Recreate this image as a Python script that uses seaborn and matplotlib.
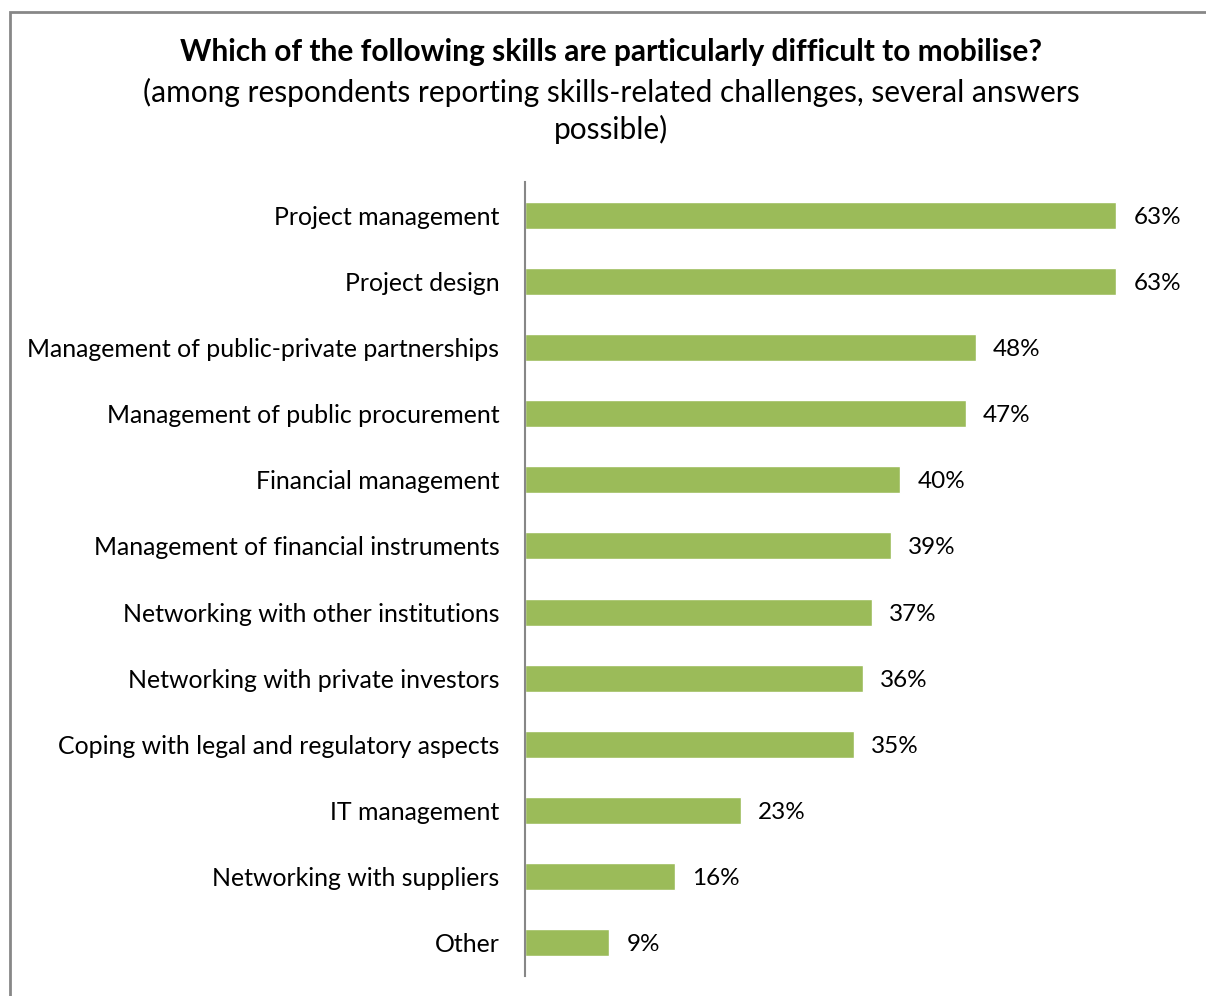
import matplotlib
matplotlib.use("Agg")
import matplotlib.pyplot as plt
import seaborn as sns
import pandas as pd
from matplotlib.patches import Rectangle

skills = [
    "Project management",
    "Project design",
    "Management of public-private partnerships",
    "Management of public procurement",
    "Financial management",
    "Management of financial instruments",
    "Networking with other institutions",
    "Networking with private investors",
    "Coping with legal and regulatory aspects",
    "IT management",
    "Networking with suppliers",
    "Other",
]
shares = [63, 63, 48, 47, 40, 39, 37, 36, 35, 23, 16, 9]

df = pd.DataFrame({"skill": skills, "share": shares})

sns.set_theme(style="white")
plt.rcParams["font.family"] = ["Lato", "DejaVu Sans"]

W, H = 1206, 996
fig = plt.figure(figsize=(W / 100, H / 100), dpi=100)
fig.patch.set_facecolor("white")

# chart-area frame (runs off the right and bottom edges)
fig.patches.append(Rectangle((9.5 / W, -0.05), 1.2, 1 - 11.5 / H + 0.05,
                             transform=fig.transFigure, fill=False,
                             edgecolor="#878787", linewidth=2))

ax = fig.add_axes([525 / W, 1 - 976 / H, (1182 - 525) / W, (976 - 182) / H])
sns.barplot(data=df, x="share", y="skill", orient="h", color="#9BBB59",
            saturation=1, width=0.41, ax=ax)

ax.set_xlim(0, 70)
ax.set_ylim(len(skills) - 0.5, -0.5)
ax.set_xlabel("")
ax.set_ylabel("")
ax.set_xticks([])
for side in ("top", "right", "bottom"):
    ax.spines[side].set_visible(False)
ax.spines["left"].set_color("#878787")
ax.spines["left"].set_linewidth(1.5)
ax.tick_params(axis="y", length=0, pad=18.5, labelsize=17.9, labelcolor="black")
for lab in ax.get_yticklabels():
    lab.set_verticalalignment("center_baseline")

for i, v in enumerate(shares):
    ax.annotate(f"{v}%", (v, i), xytext=(17, 0), textcoords="offset pixels",
                va="center_baseline", ha="left", fontsize=17.5, color="black")

fig.text(611 / W, 1 - 52 / H,
         "Which of the following skills are particularly difficult to mobilise?",
         ha="center", va="center", fontsize=21.5, fontweight="bold", color="black")
fig.text(611 / W, 1 - 92 / H,
         "(among respondents reporting skills-related challenges, several answers",
         ha="center", va="center", fontsize=21.5, color="black")
fig.text(611 / W, 1 - 129 / H, "possible)",
         ha="center", va="center", fontsize=21.5, color="black")

fig.savefig("out.png", dpi=100, facecolor="white")
